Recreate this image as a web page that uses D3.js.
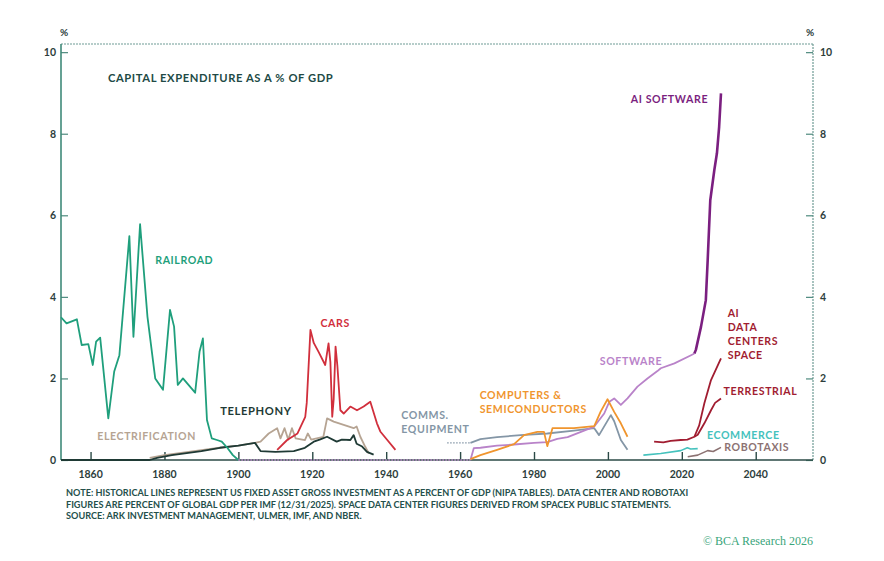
<!DOCTYPE html>
<html>
<head>
<meta charset="utf-8">
<script src="https://cdn.jsdelivr.net/npm/d3@7"></script>
<style>
  body { margin: 0; background: #ffffff; }
  svg text { font-family: "Lato", "Open Sans", sans-serif; }
</style>
</head>
<body>
<div id="chart"></div>
<script>
// ---- data (year, % of GDP) ----
const railroadYears = [1852, 1853.5, 1856.3, 1857.6, 1859.4, 1860.6, 1861.5, 1862.6, 1864.8, 1866.4, 1867.8, 1870.5, 1871.6, 1873.4, 1875.4, 1877.5, 1879.6, 1881.5, 1882.6, 1883.6, 1885, 1888.3, 1889.5, 1890.4, 1891.5, 1892.8, 1894.2, 1895.5, 1897, 1898.5, 1900];
const railroadValues = [3.5, 3.35, 3.45, 2.82, 2.84, 2.33, 2.9, 3.0, 1.02, 2.17, 2.57, 5.49, 3.02, 5.78, 3.51, 2.0, 1.72, 3.68, 3.27, 1.84, 2.0, 1.65, 2.66, 2.98, 0.98, 0.53, 0.49, 0.45, 0.3, 0.12, 0];

const electrificationYears = [1876, 1880, 1885, 1890, 1895, 1900, 1904.5, 1906, 1908.2, 1910.5, 1911.4, 1912.5, 1913.5, 1914.5, 1915.5, 1918, 1918.8, 1919.7, 1923, 1924, 1925.8, 1931.2, 1932, 1933, 1934.3, 1935.3];
const electrificationValues = [0.05, 0.12, 0.18, 0.24, 0.3, 0.35, 0.42, 0.45, 0.65, 0.78, 0.53, 0.78, 0.5, 0.78, 0.53, 0.49, 0.65, 0.5, 0.57, 1.02, 0.94, 0.78, 0.82, 0.57, 0.33, 0.16];

const telephonyYears = [1852, 1876, 1878, 1882, 1886, 1890, 1895, 1900, 1904.5, 1906, 1910, 1915, 1918, 1920.4, 1922, 1924, 1926.6, 1928, 1930.3, 1931.2, 1932, 1933.5, 1934.8, 1936.6];
const telephonyValues = [0, 0, 0.05, 0.12, 0.17, 0.22, 0.3, 0.35, 0.42, 0.22, 0.2, 0.22, 0.3, 0.45, 0.5, 0.57, 0.45, 0.5, 0.49, 0.61, 0.4, 0.33, 0.2, 0.13];

const carsYears = [1910.5, 1913.2, 1916, 1918.1, 1918.5, 1919.5, 1920.4, 1921.7, 1923.5, 1924.4, 1924.9, 1925.4, 1925.8, 1926.3, 1926.8, 1927.6, 1928.5, 1930.3, 1932.1, 1933.9, 1935.7, 1937.5, 1938.4, 1940.3, 1942.5];
const carsValues = [0.25, 0.49, 0.65, 1.06, 1.4, 3.19, 2.87, 2.65, 2.33, 2.86, 2.4, 1.06, 1.5, 2.78, 2.3, 1.22, 1.14, 1.31, 1.22, 1.31, 1.43, 0.9, 0.7, 0.49, 0.25];

const commsDottedYears = [1956.5, 1962.8];
const commsDottedValues = [0.42, 0.42];
const commsYears = [1962.8, 1965.5, 1970, 1976.4, 1983.6, 1990.8, 1996.3, 1997.6, 2000.8, 2001.7, 2003.5, 2005.3];
const commsValues = [0.42, 0.51, 0.56, 0.61, 0.65, 0.72, 0.78, 0.61, 1.1, 0.95, 0.49, 0.25];

const computersYears = [1962.8, 1965.5, 1970, 1974.6, 1977.3, 1980.9, 1982.7, 1983.6, 1985, 1990.8, 1996.3, 1998, 1999.9, 2001.7, 2003.5, 2005.3];
const computersValues = [0.02, 0.12, 0.25, 0.39, 0.61, 0.69, 0.69, 0.34, 0.78, 0.78, 0.83, 1.18, 1.49, 1.18, 0.9, 0.57];

const softwareDottedYears = [1900, 1962.8];
const softwareDottedValues = [0, 0];
const softwareYears = [1962.8, 1963.7, 1965.5, 1970, 1974.6, 1980, 1983.6, 1986.3, 1989.1, 1992.7, 1996.3, 1999, 2000.4, 2001.7, 2002.6, 2003.5, 2005.3, 2008, 2010.7, 2013.4, 2014.3, 2018, 2022.5, 2023.4];
const softwareValues = [0, 0.29, 0.3, 0.35, 0.38, 0.42, 0.44, 0.52, 0.56, 0.69, 0.82, 1.14, 1.43, 1.51, 1.43, 1.35, 1.51, 1.8, 2.0, 2.18, 2.25, 2.37, 2.57, 2.61];

const aiSoftwareYears = [2023.4, 2023.8, 2025.2, 2026.5, 2027.0, 2027.7, 2028.8, 2029.5, 2030.1, 2030.6];
const aiSoftwareValues = [2.61, 2.7, 3.27, 3.92, 4.9, 6.37, 7.11, 7.52, 8.17, 8.99];

const dcSpaceYears = [2012.5, 2015, 2017, 2019.7, 2021.5, 2023.4, 2024.7, 2026.1, 2027.9, 2030.6];
const dcSpaceValues = [0.45, 0.43, 0.47, 0.49, 0.5, 0.57, 0.85, 1.39, 1.96, 2.49];

const dcTerrestrialYears = [2023.4, 2024.3, 2026.1, 2027.9, 2029, 2030.6];
const dcTerrestrialValues = [0.57, 0.62, 0.9, 1.22, 1.4, 1.51];

const ecommerceYears = [2009.6, 2014.3, 2019.7, 2021.5, 2022.4, 2024.3];
const ecommerceValues = [0.12, 0.16, 0.23, 0.3, 0.27, 0.28];

const robotaxiYears = [2021.6, 2024.3, 2027, 2028.5, 2030.6];
const robotaxiValues = [0.08, 0.12, 0.23, 0.21, 0.31];

const xTicks = [1860, 1880, 1900, 1920, 1940, 1960, 1980, 2000, 2020, 2040];
const yTicks = [0, 2, 4, 6, 8, 10];

const noteLines = [
  "NOTE: HISTORICAL LINES REPRESENT US FIXED ASSET GROSS INVESTMENT AS A PERCENT OF GDP (NIPA TABLES). DATA CENTER AND ROBOTAXI",
  "FIGURES ARE PERCENT OF GLOBAL GDP PER IMF (12/31/2025). SPACE DATA CENTER FIGURES DERIVED FROM SPACEX PUBLIC STATEMENTS.",
  "SOURCE: ARK INVESTMENT MANAGEMENT, ULMER, IMF, AND NBER."
];

// ---- chart ----
const W = 884, H = 561;
const margin = { top: 44, right: 71, bottom: 101, left: 61 };

const zip = (xs, ys) => xs.map((x, i) => ({ year: x, value: ys[i] }));

const series = [
  { name: "electrification", pts: zip(electrificationYears, electrificationValues), color: "#b6a493", width: 1.8 },
  { name: "telephony", pts: zip(telephonyYears, telephonyValues), color: "#1f3a35", width: 1.8 },
  { name: "railroad", pts: zip(railroadYears, railroadValues), color: "#1f9f7c", width: 1.8 },
  { name: "cars", pts: zip(carsYears, carsValues), color: "#d12f3c", width: 1.8 },
  { name: "softwareZero", pts: zip(softwareDottedYears, softwareDottedValues), color: "#c38bd0", width: 1.4, dash: "1.5,1.5" },
  { name: "commsZero", pts: zip(commsDottedYears, commsDottedValues), color: "#8496a6", width: 1.4, dash: "1.5,1.5" },
  { name: "comms", pts: zip(commsYears, commsValues), color: "#8496a6", width: 1.8 },
  { name: "software", pts: zip(softwareYears, softwareValues), color: "#b983c9", width: 1.8 },
  { name: "computers", pts: zip(computersYears, computersValues), color: "#f0952e", width: 1.8 },
  { name: "aiSoftware", pts: zip(aiSoftwareYears, aiSoftwareValues), color: "#7b1f80", width: 2.6 },
  { name: "ecommerce", pts: zip(ecommerceYears, ecommerceValues), color: "#45c2bd", width: 1.6 },
  { name: "robotaxi", pts: zip(robotaxiYears, robotaxiValues), color: "#8c7272", width: 1.6 },
  { name: "dcTerrestrial", pts: zip(dcTerrestrialYears, dcTerrestrialValues), color: "#a11d31", width: 1.8 },
  { name: "dcSpace", pts: zip(dcSpaceYears, dcSpaceValues), color: "#a11d31", width: 1.8 }
];

const labels = [
  { text: ["CAPITAL EXPENDITURE AS A % OF GDP"], x: 1864.7, y: 9.27, color: "#214a45", size: 11.2 },
  { text: ["RAILROAD"], x: 1877.5, y: 4.8, color: "#1f9f7c" },
  { text: ["ELECTRIFICATION"], x: 1861.8, y: 0.48, color: "#b6a493" },
  { text: ["TELEPHONY"], x: 1895.1, y: 1.1, color: "#1f3a35", size: 11.2 },
  { text: ["CARS"], x: 1922.2, y: 3.27, color: "#d12f3c" },
  { text: ["COMMS.", "EQUIPMENT"], x: 1944.1, y: 1.0, color: "#8496a6" },
  { text: ["COMPUTERS &", "SEMICONDUCTORS"], x: 1965.3, y: 1.5, color: "#f0952e" },
  { text: ["SOFTWARE"], x: 1997.8, y: 2.33, color: "#b983c9" },
  { text: ["AI SOFTWARE"], x: 2006.2, y: 8.75, color: "#7b1f80" },
  { text: ["AI", "DATA", "CENTERS", "SPACE"], x: 2032.4, y: 3.5, color: "#a11d31" },
  { text: ["TERRESTRIAL"], x: 2031.3, y: 1.6, color: "#a11d31" },
  { text: ["ECOMMERCE"], x: 2026.8, y: 0.52, color: "#45c2bd" },
  { text: ["ROBOTAXIS"], x: 2031.5, y: 0.21, color: "#8c7272" }
];

const svg = d3.select("#chart")
  .append("svg")
  .attr("width", W)
  .attr("height", H);

const x = d3.scaleLinear()
  .domain([1852, 2055.5])
  .range([margin.left, W - margin.right]);

const y = d3.scaleLinear()
  .domain([0, 10.2])
  .range([H - margin.bottom, margin.top]);

const x0 = x.range()[0], x1 = x.range()[1];
const y0 = y.range()[0], y1 = y.range()[1];

// frame: dotted top and right
svg.append("line")
  .attr("x1", x0).attr("x2", x1).attr("y1", y1).attr("y2", y1)
  .style("stroke", "#6f9c95").style("stroke-width", 1.2)
  .style("stroke-dasharray", "2,1");
svg.append("line")
  .attr("x1", x1).attr("x2", x1).attr("y1", y1).attr("y2", y0)
  .style("stroke", "#6f9c95").style("stroke-width", 1.2)
  .style("stroke-dasharray", "2,1");

// left axis
const leftAxis = svg.append("g")
  .attr("transform", `translate(${x0},0)`)
  .call(d3.axisRight(y).tickValues(yTicks).tickSize(7).tickFormat(""));
leftAxis.select(".domain").remove();
leftAxis.selectAll(".tick line").style("stroke", "#4e8a7e").style("stroke-width", 1.2);
svg.append("line")
  .attr("x1", x0).attr("x2", x0).attr("y1", y1).attr("y2", y0)
  .style("stroke", "#3f8a79").style("stroke-width", 1.6);

// right axis
const rightAxis = svg.append("g")
  .attr("transform", `translate(${x1},0)`)
  .call(d3.axisLeft(y).tickValues(yTicks).tickSize(7).tickFormat(""));
rightAxis.select(".domain").remove();
rightAxis.selectAll(".tick line").style("stroke", "#4e8a7e").style("stroke-width", 1.2);

// tick labels left and right
svg.selectAll(".yLabelL")
  .data(yTicks)
  .enter()
  .append("text")
  .attr("x", x0 - 5)
  .attr("y", (d) => y(d))
  .attr("dy", "0.36em")
  .attr("text-anchor", "end")
  .style("font-size", "10.5px")
  .style("font-weight", 700)
  .attr("fill", "#2d3e3c")
  .text((d) => d);

svg.selectAll(".yLabelR")
  .data(yTicks)
  .enter()
  .append("text")
  .attr("x", x1 + 7)
  .attr("y", (d) => y(d))
  .attr("dy", "0.36em")
  .attr("text-anchor", "start")
  .style("font-size", "10.5px")
  .style("font-weight", 700)
  .attr("fill", "#2d3e3c")
  .text((d) => d);

svg.append("text").attr("x", x0 + 3).attr("y", 36).attr("text-anchor", "middle")
  .style("font-size", "10px").style("font-weight", 700).attr("fill", "#2d3e3c").text("%");
svg.append("text").attr("x", x1 - 3).attr("y", 36).attr("text-anchor", "middle")
  .style("font-size", "10px").style("font-weight", 700).attr("fill", "#2d3e3c").text("%");

// bottom axis
const bottomAxis = svg.append("g")
  .attr("transform", `translate(0,${y0})`)
  .call(d3.axisTop(x).tickValues(xTicks).tickSize(8).tickFormat(""));
bottomAxis.select(".domain").remove();
bottomAxis.selectAll(".tick line").style("stroke", "#2b4a46").style("stroke-width", 1.4);

svg.append("line")
  .attr("x1", x0).attr("x2", x1).attr("y1", y0).attr("y2", y0)
  .style("stroke", "#2b4a46").style("stroke-width", 1.6);

svg.selectAll(".xLabel")
  .data(xTicks)
  .enter()
  .append("text")
  .attr("x", (d) => x(d))
  .attr("y", y0 + 14)
  .attr("dy", "0.36em")
  .attr("text-anchor", "middle")
  .style("font-size", "10.5px")
  .style("font-weight", 700)
  .attr("fill", "#2d3e3c")
  .text((d) => d);

// lines
const line = d3.line()
  .x((d) => x(d.year))
  .y((d) => y(d.value))
  .curve(d3.curveLinear);

svg.append("g")
  .selectAll("path")
  .data(series)
  .enter()
  .append("path")
  .attr("d", (d) => line(d.pts))
  .style("fill", "none")
  .style("stroke", (d) => d.color)
  .style("stroke-width", (d) => d.width)
  .style("stroke-linejoin", "round")
  .style("stroke-dasharray", (d) => d.dash || null);

// series labels
const lab = svg.append("g")
  .selectAll("text")
  .data(labels)
  .enter()
  .append("text")
  .attr("x", (d) => x(d.x))
  .attr("y", (d) => y(d.y))
  .attr("dy", "0.5em")
  .style("font-size", (d) => (d.size || 10.6) + "px")
  .style("font-weight", 700)
  .style("letter-spacing", "0.6px")
  .attr("fill", (d) => d.color);

lab.selectAll("tspan")
  .data((d) => d.text.map((t) => ({ t: t, x: x(d.x) })))
  .enter()
  .append("tspan")
  .attr("x", (d) => d.x)
  .attr("dy", (d, i) => (i === 0 ? 0 : 14))
  .text((d) => d.t);

// footnote
svg.append("g")
  .selectAll("text")
  .data(noteLines)
  .enter()
  .append("text")
  .attr("x", 66)
  .attr("y", (d, i) => 496 + i * 11.6)
  .style("font-size", "9.15px")
  .style("font-weight", 700)
  .attr("fill", "#24504b")
  .text((d) => d);

svg.append("text")
  .attr("x", 813)
  .attr("y", 545)
  .attr("text-anchor", "end")
  .style("font-family", "'Liberation Serif', 'DejaVu Serif', serif")
  .style("font-size", "12px")
  .attr("fill", "#3aa57a")
  .text("© BCA Research 2026");
</script>
</body>
</html>
